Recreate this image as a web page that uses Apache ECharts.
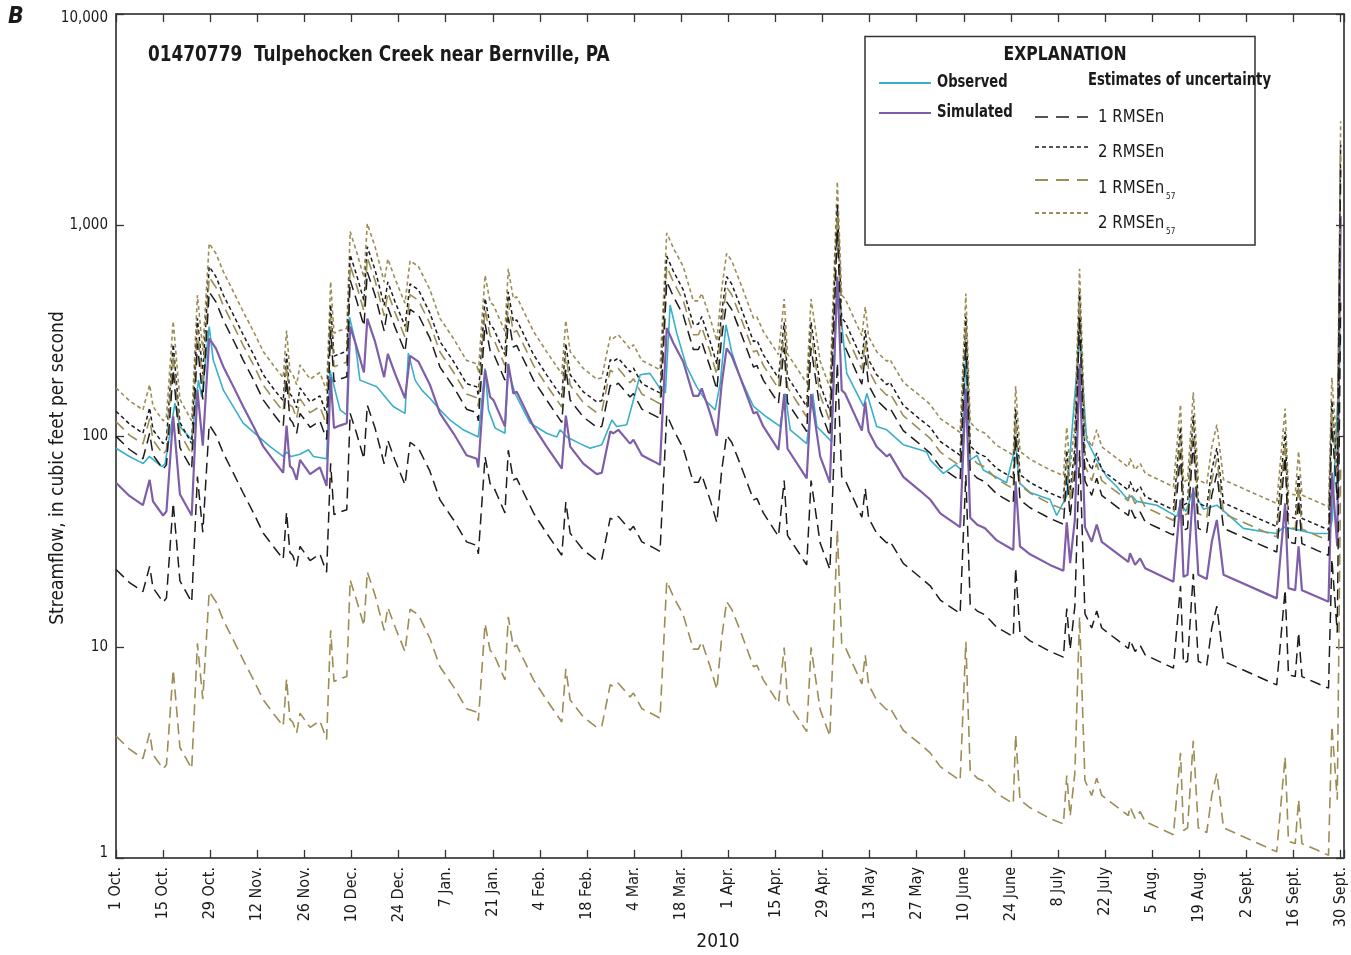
<!DOCTYPE html>
<html><head><meta charset="utf-8">
<script src="https://cdn.jsdelivr.net/npm/echarts@6/dist/echarts.min.js"></script>
<style>html,body{margin:0;padding:0;background:#fff}#c{width:1351px;height:955px}</style>
</head><body><div id="c"></div>
<script>
// x tick labels, every 14 days from 1 Oct 2009 (day 0)
const tickLabels = ['1 Oct.','15 Oct.','29 Oct.','12 Nov.','26 Nov.','10 Dec.','24 Dec.','7 Jan.','21 Jan.','4 Feb.','18 Feb.','4 Mar.','18 Mar.','1 Apr.','15 Apr.','29 Apr.','13 May','27 May','10 June','24 June','8 July','22 July','5 Aug.','19 Aug.','2 Sept.','16 Sept.','30 Sept.'];
const yTickLabels = {1:'1',10:'10',100:'100',1000:'1,000',10000:'10,000'};

// Observed streamflow (day since 1 Oct 2009, cfs)
const obsDay = [0,4,8.1,9.9,13.6,14.6,17.5,19,22.5,24.5,25.5,27.7,28.9,31.9,37.8,45.8,49.7,50.7,52,54.7,57.2,58.7,62.6,63.6,66.6,68.6,69.4,71,72.5,77.5,82.4,85.9,86.9,88.9,90.9,93.3,96.3,99.3,103.2,107.7,109.7,110.7,112.7,115.6,116.6,118.6,123.1,128,131,132,134,137.9,140.9,144.4,147.4,148.8,151.8,153.8,155.8,158.7,161.7,163.3,164.7,166.7,169.6,172.6,175.6,178.1,179.6,181.3,183,185.5,189.5,193.4,197.4,198.9,200.4,205.3,207.1,208.3,212.7,214.4,216.2,217.2,222.2,223.2,226.1,229.1,234,239,241,242,245.9,247.9,249.5,251.4,252.6,253.9,255.9,257.8,264.7,267.4,268.5,271.7,277.6,279.6,282.6,286.4,288.5,291.5,294.5,297.5,300.4,302,303.4,309.4,315.3,316.4,318,320.2,323.2,327.2,331.2,335.1,341.1,345,347,351,355.9,360.4,361.5,364];
const obsFlow = [87.5,80,74,80,71.5,74,143,111,96,184,153,330,229,165,115,89,80,84,80,82,86,80,78,205,133,126,367,285,184,171,138,128,247,184,165,151,133,119,107,99,209,133,109,103,205,159,115,103,99,107,99,92,87.5,91,119,111,113,148,195,198,168,160,418,306,213,171,145,133,178,336,250,190,138,123,111,159,107,92,159,111,94,549,285,198,138,159,111,107,91,86,84,77,66.5,70,73,69,250,77,81,69,60,90,60,54,50,42,52,295,96,77,64,57.5,50.7,52,49,47,41.5,48,44,55,45,47,41.5,36.5,35.2,34.5,37,36,34.5,34.5,40,296];

// Simulated streamflow and uncertainty bounds (same days)
const simDay = [0,4,8,10,11,14,15,17,19,22.5,24.2,25.8,27.7,29.7,31.9,35,37.8,41,43.8,47,49.7,50.7,51.7,52.5,53.7,54.7,56,57.7,60.6,62.6,63.8,64.8,66.5,68.6,69.6,71.5,73.7,74.7,77,79.7,80.8,82.9,85.9,87.4,89.9,93.3,96.3,100.3,104.2,107.2,107.7,109.7,111.2,112.2,115.6,116.6,118.1,119.1,124.1,128,132.5,133.7,135,138.9,142.9,144.4,146.9,147.8,149.3,152.8,153.8,156.3,159.7,161.7,163.7,165.7,168.6,171.6,173.1,174.1,176.6,178.6,180,181.5,183,185.5,189.5,190.5,192.4,196.9,198.6,199.6,205.3,206.6,209.3,212.2,214.4,215.7,216.7,221.7,222.7,223.7,226.1,229.1,230,234,239,242,245,250.9,252.6,253.9,256,258.3,261.8,266.7,267.4,268.7,271.7,277.6,281.6,282.6,283.6,285,286.4,288,290,291.5,293,300.9,301.4,302.9,304.4,305.9,314.3,316.4,317.3,318.5,320.2,321.7,324.2,325.7,327.2,329.2,345,347.5,348.5,350.5,351.5,352.5,357,360.4,361.4,363,364];
const simFlow = [60,52,47,62,49,42,44,124,53,42,165,90,290,260,213,170,138,110,89,76,67,112,72,70,62,77,72,66,71,58,191,109,112,115,330,265,200,360,280,190,245,198,151,240,225,175,128,103,81,78,71,205,153,148,111,220,159,162,111,89,70,125,89,74,66,67,105,103,107,92,96,81,76,73,325,275,225,155,155,168,128,100,175,260,240,190,128,130,111,86,158,87,63,158,80,60,570,165,159,106,145,105,89,80,82,64,55,50,43,37,168,41,38,36.5,32,28.8,61,30,27.5,24.5,23,39,25,40,220,37,31.5,38,31.5,25.3,27.8,24.5,26.3,23.6,20.4,50,21.5,22,57,22,21,31.5,40,22,17,48,19,18.6,30,18.6,17.3,16.4,67,30,1100];
const upper2n57 = [169,147,133,175,138,118,124,350,149,118,465,254,818,733,601,479,389,310,251,214,189,316,203,197,175,217,203,186,200,164,539,307,316,324,931,747,564,1015,790,536,691,558,426,677,635,494,361,290,228,220,200,578,431,417,313,620,448,457,313,251,197,353,251,209,186,189,296,290,302,259,271,228,214,206,917,776,635,437,437,474,361,282,494,733,677,536,361,367,313,243,446,245,178,446,226,169,1607,465,448,299,409,296,251,226,231,180,155,141,121,104,474,116,107,103,90.2,81.2,172,84.6,77.6,69.1,64.9,110,70.5,113,620,104,88.8,107,88.8,71.3,78.4,69.1,74.2,66.6,57.5,141,60.6,62.0,161,62.0,59.2,88.8,113,62.0,47.9,135,53.6,52.5,84.6,52.5,48.8,46.2,189,84.6,3102];
const upper2n = [131,114,103,136,107,92.0,96.4,272,116,92.0,361,197,635,569,466,372,302,241,195,166,147,245,158,153,136,169,158,145,155,127,418,239,245,252,723,580,438,788,613,416,537,434,331,526,493,383,280,226,177,171,155,449,335,324,243,482,348,355,243,195,153,274,195,162,145,147,230,226,234,201,210,177,166,160,712,602,493,339,339,368,280,219,383,569,526,416,280,285,243,188,346,191,138,346,175,131,1248,361,348,232,318,230,195,175,180,140,120,110,94.2,81.0,368,89.8,83.2,79.9,70.1,63.1,134,65.7,60.2,53.7,50.4,85.4,54.8,87.6,482,81.0,69.0,83.2,69.0,55.4,60.9,53.7,57.6,51.7,44.7,110,47.1,48.2,125,48.2,46.0,69.0,87.6,48.2,37.2,105,41.6,40.7,65.7,40.7,37.9,35.9,147,65.7,2409];
const upper1n57 = [117,101,91.7,121,95.6,81.9,85.8,242,103,81.9,322,176,566,507,415,332,269,215,174,148,131,218,140,137,121,150,140,129,138,113,372,213,218,224,644,517,390,702,546,371,478,386,294,468,439,341,250,201,158,152,138,400,298,289,216,429,310,316,216,174,137,244,174,144,129,131,205,201,209,179,187,158,148,142,634,536,439,302,302,328,250,195,341,507,468,371,250,254,216,168,308,170,123,308,156,117,1112,322,310,207,283,205,174,156,160,125,107,97.5,83.9,72.2,328,80.0,74.1,71.2,62.4,56.2,119,58.5,53.6,47.8,44.9,76.1,48.8,78.0,429,72.2,61.4,74.1,61.4,49.3,54.2,47.8,51.3,46.0,39.8,97.5,41.9,42.9,111,42.9,41.0,61.4,78.0,42.9,33.2,93.6,37.1,36.3,58.5,36.3,33.7,32.0,131,58.5,2145];
const upper1n = [99.6,86.3,78.0,103,81.3,69.7,73.0,206,88.0,69.7,274,149,481,432,354,282,229,183,148,126,111,186,120,116,103,128,120,110,118,96.3,317,181,186,191,548,440,332,598,465,315,407,329,251,398,374,291,212,171,134,129,118,340,254,246,184,365,264,269,184,148,116,208,148,123,110,111,174,171,178,153,159,134,126,121,540,457,374,257,257,279,212,166,291,432,398,315,212,216,184,143,262,144,105,262,133,99.6,946,274,264,176,241,174,148,133,136,106,91.3,83.0,71.4,61.4,279,68.1,63.1,60.6,53.1,47.8,101,49.8,45.7,40.7,38.2,64.7,41.5,66.4,365,61.4,52.3,63.1,52.3,42.0,46.1,40.7,43.7,39.2,33.9,83.0,35.7,36.5,94.6,36.5,34.9,52.3,66.4,36.5,28.2,79.7,31.5,30.9,49.8,30.9,28.7,27.2,111,49.8,1826];
const lower1n = [23.3,20.2,18.3,24.1,19.1,16.3,17.1,48.2,20.6,16.3,64.2,35.0,113,101,82.9,66.1,53.7,42.8,34.6,29.6,26.1,43.6,28.0,27.2,24.1,30.0,28.0,25.7,27.6,22.6,74.3,42.4,43.6,44.7,128,103,77.8,140,109,73.9,95.3,77.0,58.7,93.4,87.5,68.1,49.8,40.1,31.5,30.3,27.6,79.7,59.5,57.6,43.2,85.6,61.9,63.0,43.2,34.6,27.2,48.6,34.6,28.8,25.7,26.1,40.8,40.1,41.6,35.8,37.3,31.5,29.6,28.4,126,107,87.5,60.3,60.3,65.4,49.8,38.9,68.1,101,93.4,73.9,49.8,50.6,43.2,33.5,61.5,33.8,24.5,61.5,31.1,23.3,222,64.2,61.9,41.2,56.4,40.8,34.6,31.1,31.9,24.9,21.4,19.5,16.7,14.4,65.4,15.9,14.8,14.2,12.4,11.2,23.7,11.7,10.7,9.53,8.95,15.2,9.73,15.6,85.6,14.4,12.3,14.8,12.3,9.84,10.8,9.53,10.2,9.18,7.94,19.5,8.36,8.56,22.2,8.56,8.17,12.3,15.6,8.56,6.61,18.7,7.39,7.24,11.7,7.24,6.73,6.38,26.1,11.7,428];
const lower1n57 = [3.78,3.28,2.96,3.91,3.09,2.65,2.77,7.81,3.34,2.65,10.4,5.67,18.3,16.4,13.4,10.7,8.69,6.93,5.61,4.79,4.22,7.06,4.54,4.41,3.91,4.85,4.54,4.16,4.47,3.65,12.0,6.87,7.06,7.25,20.8,16.7,12.6,22.7,17.6,12.0,15.4,12.5,9.51,15.1,14.2,11.0,8.06,6.49,5.10,4.91,4.47,12.9,9.64,9.32,6.99,13.9,10.0,10.2,6.99,5.61,4.41,7.88,5.61,4.66,4.16,4.22,6.62,6.49,6.74,5.80,6.05,5.10,4.79,4.60,20.5,17.3,14.2,9.77,9.77,10.6,8.06,6.30,11.0,16.4,15.1,12.0,8.06,8.19,6.99,5.42,9.95,5.48,3.97,9.95,5.04,3.78,35.9,10.4,10.0,6.68,9.14,6.62,5.61,5.04,5.17,4.03,3.47,3.15,2.71,2.33,10.6,2.58,2.39,2.30,2.02,1.81,3.84,1.89,1.73,1.54,1.45,2.46,1.58,2.52,13.9,2.33,1.98,2.39,1.98,1.59,1.75,1.54,1.66,1.49,1.29,3.15,1.35,1.39,3.59,1.39,1.32,1.98,2.52,1.39,1.07,3.02,1.20,1.17,1.89,1.17,1.09,1.03,4.22,1.89,69.3];

const FONT = '"Liberation Sans Narrow","DejaVu Sans Condensed","Arial Narrow",sans-serif';
const C_OBS = '#3aafcb', C_SIM = '#7f5ea9', C_OLIVE = '#9b8d55', C_BLK = '#1c1c1c', C_AX = '#555555';
const LONG = [11, 6], SHORT = [4, 3];

const pairs = (xs, ys) => xs.map((x, i) => [x, ys[i]]);
const line = (name, xs, ys, color, width, type, z) => ({
  type: 'line', name, data: pairs(xs, ys), showSymbol: false, symbol: 'none',
  lineStyle: { color, width, type }, silent: true, z, animation: false, clip: true
});
// condensed text helper (scaleX emulates the narrow typeface of the original)
const txt = (x, y, text, font, sx, extra) => Object.assign({ type: 'text', x, y, scaleX: sx, z: 101,
  style: Object.assign({ text, font: font + ' ' + FONT, fill: '#1a1a1a', verticalAlign: 'middle' }, extra || {}) });

const chart = echarts.init(document.getElementById('c'), null, { renderer: 'canvas' });
const axisCommon = {
  axisLine: { show: true, onZero: false, lineStyle: { color: C_AX, width: 2 } },
  axisTick: { show: true, inside: true, length: 8, lineStyle: { color: '#333', width: 1.3 } },
  splitLine: { show: false }
};
chart.setOption({
  animation: false,
  backgroundColor: '#fff',
  grid: { left: 116, right: 7, top: 14, bottom: 97, containLabel: false },
  xAxis: [
    Object.assign({ type: 'value', min: 0, max: 365, interval: 14, position: 'bottom',
      axisLabel: { rotate: 90, margin: 9, fontSize: 16, color: '#1a1a1a', fontFamily: FONT,
        formatter: v => (v % 14 === 0 && v / 14 < tickLabels.length) ? tickLabels[v / 14] : '' } }, axisCommon),
    Object.assign({ type: 'value', min: 0, max: 365, interval: 14, position: 'top', axisLabel: { show: false } }, axisCommon)
  ],
  yAxis: [
    Object.assign({ type: 'log', logBase: 10, min: 1, max: 10000, position: 'left',
      axisLabel: { fontSize: 15, color: '#1a1a1a', fontFamily: FONT, margin: 8,
        formatter: v => {
          const k = Math.round(v);
          if (k === 10000) return '{t|10,000}';
          if (k === 1) return '{b|1}';
          return yTickLabels[k] || '';
        },
        rich: { t: { fontSize: 15, fontFamily: FONT, color: '#1a1a1a', padding: [8, 0, 0, 0] },
                b: { fontSize: 15, fontFamily: FONT, color: '#1a1a1a', padding: [0, 0, 10, 0] } } } }, axisCommon),
    Object.assign({ type: 'log', logBase: 10, min: 1, max: 10000, position: 'right', axisLabel: { show: false } }, axisCommon)
  ],
  series: [
    line('Observed', obsDay, obsFlow, C_OBS, 1.6, 'solid', 3),
    line('Simulated', simDay, simFlow, C_SIM, 2.2, 'solid', 4),
    line('2 RMSEn57 upper', simDay, upper2n57, C_OLIVE, 1.6, SHORT, 5),
    line('2 RMSEn upper', simDay, upper2n, C_BLK, 1.5, SHORT, 5),
    line('1 RMSEn57 upper', simDay, upper1n57, C_OLIVE, 1.6, LONG, 5),
    line('1 RMSEn upper', simDay, upper1n, C_BLK, 1.5, LONG, 5),
    line('1 RMSEn lower', simDay, lower1n, C_BLK, 1.5, LONG, 5),
    line('1 RMSEn57 lower', simDay, lower1n57, C_OLIVE, 1.6, LONG, 5)
  ],
  graphic: [
    txt(8, 17, 'B', 'italic bold 23px', 1),
    txt(148, 55, '01470779  Tulpehocken Creek near Bernville, PA', 'bold 22px', 0.855),
    { type: 'text', x: 58, y: 468, rotation: Math.PI / 2, style: { text: 'Streamflow, in cubic feet per second', font: '19px ' + FONT, fill: '#1a1a1a', align: 'center', verticalAlign: 'middle' } },
    txt(718, 942, '2010', '19px', 1, { align: 'center' }),
    { type: 'group', z: 100, children: [
      { type: 'rect', shape: { x: 865, y: 36.5, width: 390, height: 208.5 }, style: { fill: '#fff', stroke: '#333', lineWidth: 1.5 }, z: 100 },
      txt(1065, 55, 'EXPLANATION', 'bold 20px', 0.87, { align: 'center' }),
      { type: 'line', z: 101, shape: { x1: 879, y1: 83, x2: 931, y2: 83 }, style: { stroke: C_OBS, lineWidth: 2 } },
      txt(937, 82, 'Observed', 'bold 18px', 0.81),
      { type: 'line', z: 101, shape: { x1: 879, y1: 113, x2: 931, y2: 113 }, style: { stroke: C_SIM, lineWidth: 2.2 } },
      txt(937, 112, 'Simulated', 'bold 18px', 0.82),
      txt(1088, 81, 'Estimates of uncertainty', 'bold 17px', 0.86),
      { type: 'line', z: 101, shape: { x1: 1035, y1: 117, x2: 1088, y2: 117 }, style: { stroke: C_BLK, lineWidth: 1.6, lineDash: [13, 8] } },
      txt(1098, 118, '1 RMSEn', '17px', 0.98),
      { type: 'line', z: 101, shape: { x1: 1035, y1: 147, x2: 1088, y2: 147 }, style: { stroke: C_BLK, lineWidth: 1.6, lineDash: [4, 3] } },
      txt(1098, 153, '2 RMSEn', '17px', 0.98),
      { type: 'line', z: 101, shape: { x1: 1035, y1: 180, x2: 1088, y2: 180 }, style: { stroke: C_OLIVE, lineWidth: 1.8, lineDash: [13, 8] } },
      txt(1098, 189, '1 RMSEn', '17px', 0.98),
      txt(1166, 197, '57', '9px', 0.9),
      { type: 'line', z: 101, shape: { x1: 1035, y1: 213, x2: 1088, y2: 213 }, style: { stroke: C_OLIVE, lineWidth: 1.8, lineDash: [4, 3] } },
      txt(1098, 224, '2 RMSEn', '17px', 0.98),
      txt(1166, 232, '57', '9px', 0.9)
    ]}
  ]
});
</script>
</body></html>
